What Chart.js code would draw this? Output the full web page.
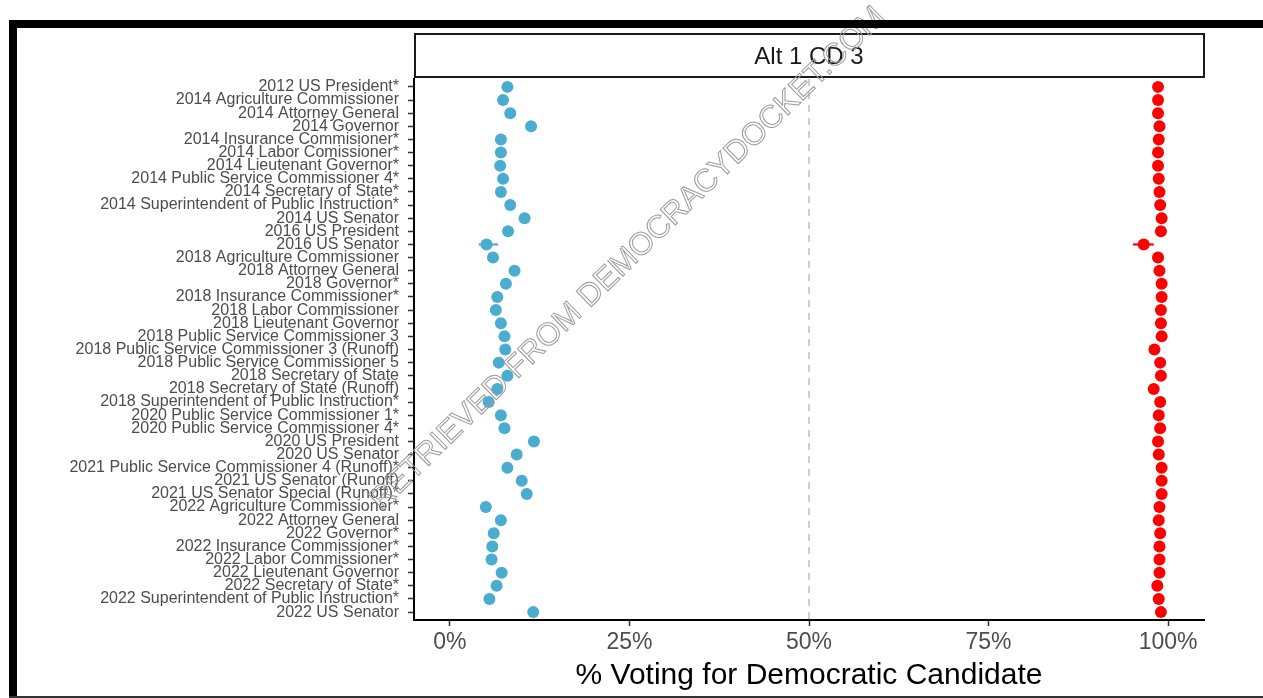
<!DOCTYPE html>
<html><head><meta charset="utf-8">
<script src="https://cdn.jsdelivr.net/npm/chart.js@4"></script>
<style>html,body{margin:0;padding:0;background:#fff;}canvas{display:block;}</style>
</head><body>
<canvas id="c" width="1263" height="698"></canvas>
<script>
const races = [
  '2012 US President*','2014 Agriculture Commissioner','2014 Attorney General','2014 Governor',
  '2014 Insurance Commisioner*','2014 Labor Comissioner*','2014 Lieutenant Governor*',
  '2014 Public Service Commissioner 4*','2014 Secretary of State*','2014 Superintendent of Public Instruction*',
  '2014 US Senator','2016 US President','2016 US Senator','2018 Agriculture Commissioner',
  '2018 Attorney General','2018 Governor*','2018 Insurance Commissioner*','2018 Labor Commissioner',
  '2018 Lieutenant Governor','2018 Public Service Commissioner 3','2018 Public Service Commissioner 3 (Runoff)',
  '2018 Public Service Commissioner 5','2018 Secretary of State','2018 Secretary of State (Runoff)',
  '2018 Superintendent of Public Instruction*','2020 Public Service Commissioner 1*',
  '2020 Public Service Commissioner 4*','2020 US President','2020 US Senator',
  '2021 Public Service Commissioner 4 (Runoff)*','2021 US Senator (Runoff)','2021 US Senator Special (Runoff)*',
  '2022 Agriculture Commissioner*','2022 Attorney General','2022 Governor*','2022 Insurance Commissioner*',
  '2022 Labor Commissioner*','2022 Lieutenant Governor','2022 Secretary of State*',
  '2022 Superintendent of Public Instruction*','2022 US Senator'
];
const bluePct = [8.0,7.4,8.4,11.3,7.1,7.1,7.0,7.4,7.1,8.4,10.4,8.1,5.1,6.0,9.0,7.8,6.6,6.4,7.1,7.6,7.7,6.8,8.0,6.6,5.4,7.1,7.6,11.7,9.3,8.0,10.0,10.7,5.0,7.1,6.1,5.9,5.8,7.2,6.5,5.5,11.6];
const redPct = [98.6,98.6,98.6,98.8,98.7,98.6,98.6,98.7,98.8,98.9,99.1,99.0,96.6,98.6,98.8,99.1,99.1,99.0,99.0,99.1,98.1,98.9,99.0,98.0,98.9,98.7,98.9,98.6,98.7,99.1,99.1,99.1,98.8,98.7,98.9,98.8,98.8,98.8,98.5,98.7,99.0];
const errRaces = ['2016 US Senator'];
const errBlueLo = [4.0];
const errBlueHi = [6.7];
const errRedLo = [95.1];
const errRedHi = [98.0];
const xTicks = [0,25,50,75,100];
const refLine = 50;
const panelTitle = 'Alt 1 CD 3';
const xTitle = '% Voting for Democratic Candidate';
const watermark = 'RETRIEVED FROM DEMOCRACYDOCKET.COM';

const BLUE = '#4aadd0';
const RED = '#ff0000';
const FONT = "'Liberation Sans', Arial, sans-serif";

const bgPlugin = {
  id: 'bg',
  beforeDraw(chart) {
    const ctx = chart.ctx;
    ctx.save(); ctx.fillStyle = '#fff'; ctx.fillRect(0,0,chart.width,chart.height); ctx.restore();
  }
};
const errPlugin = {
  id: 'err',
  beforeDatasetsDraw(chart) {
    const ctx = chart.ctx, xs = chart.scales.x, ys = chart.scales.y;
    ctx.save(); ctx.lineWidth = 2.2;
    errRaces.forEach((r, k) => {
      const y = ys.getPixelForValue(races.indexOf(r));
      ctx.strokeStyle = BLUE; ctx.beginPath();
      ctx.moveTo(xs.getPixelForValue(errBlueLo[k]), y); ctx.lineTo(xs.getPixelForValue(errBlueHi[k]), y); ctx.stroke();
      ctx.strokeStyle = RED; ctx.beginPath();
      ctx.moveTo(xs.getPixelForValue(errRedLo[k]), y); ctx.lineTo(xs.getPixelForValue(errRedHi[k]), y); ctx.stroke();
    });
    ctx.restore();
  }
};
const decorPlugin = {
  id: 'decor',
  afterDraw(chart) {
    const ctx = chart.ctx, a = chart.chartArea;
    ctx.save();
    // strip
    ctx.fillStyle = '#fff';
    ctx.strokeStyle = '#1a1a1a'; ctx.lineWidth = 2;
    ctx.fillRect(a.left + 1, 34, a.right - a.left - 1, 43);
    ctx.strokeRect(a.left + 1, 34, a.right - a.left - 1, 43);
    ctx.fillStyle = '#1a1a1a'; ctx.font = '24px ' + FONT;
    ctx.textAlign = 'center'; ctx.textBaseline = 'middle';
    ctx.fillText(panelTitle, (a.left + a.right) / 2, 57);
    // watermark
    ctx.save();
    ctx.translate(628, 259);
    ctx.rotate(-44.3 * Math.PI / 180);
    ctx.font = '31.5px ' + FONT;
    ctx.strokeStyle = '#9c9c9c'; ctx.lineWidth = 1;
    ctx.textAlign = 'center'; ctx.textBaseline = 'middle';
    ctx.strokeText(watermark, 0, 0);
    ctx.restore();
    // frame
    ctx.fillStyle = '#000';
    ctx.fillRect(9, 20, chart.width - 9, 8);
    ctx.fillRect(9, 20, 8, chart.height - 20);
    ctx.fillStyle = '#333';
    ctx.fillRect(9, 696, chart.width - 9, 2);
    ctx.restore();
  }
};

new Chart(document.getElementById('c'), {
  type: 'scatter',
  data: {
    datasets: [
      { data: races.map((r, i) => ({ x: bluePct[i], y: i })), backgroundColor: BLUE, borderWidth: 0, pointRadius: 6 },
      { data: races.map((r, i) => ({ x: redPct[i], y: i })), backgroundColor: RED, borderWidth: 0, pointRadius: 6 },
      { type: 'line', data: [{ x: refLine, y: -0.6 }, { x: refLine, y: races.length - 0.4 }],
        borderColor: '#b4b4b4', borderDash: [7, 6], borderWidth: 1.3, pointRadius: 0, fill: false }
    ]
  },
  options: {
    responsive: false, animation: false, events: [],
    layout: { padding: { left: 0, top: 79, right: 59, bottom: 4 } },
    plugins: { legend: { display: false }, tooltip: { enabled: false } },
    scales: {
      x: {
        type: 'linear', min: -5, max: 105,
        afterBuildTicks: s => { s.ticks = xTicks.map(v => ({ value: v })); },
        afterFit: s => { s.height = 698 - 4 - 620; },
        ticks: { callback: v => v + '%', font: { family: FONT, size: 23 }, color: '#4d4d4d', padding: 3, maxRotation: 0 },
        grid: { drawOnChartArea: false, tickLength: 6, color: '#333', tickWidth: 1.5 },
        border: { display: true, color: '#000', width: 2 },
        title: { display: true, text: xTitle, font: { family: FONT, size: 30 }, color: '#000', padding: 0 }
      },
      y: {
        type: 'linear', reverse: true, min: -0.6, max: races.length - 0.4,
        afterBuildTicks: s => { s.ticks = races.map((r, i) => ({ value: i })); },
        afterFit: s => { s.width = 414; },
        ticks: { callback: v => races[v], autoSkip: false, font: { family: FONT, size: 16 }, color: '#4d4d4d', padding: 9 },
        grid: { drawOnChartArea: false, tickLength: 6, color: '#333', tickWidth: 1.5 },
        border: { display: true, color: '#000', width: 2 }
      }
    }
  },
  plugins: [bgPlugin, errPlugin, decorPlugin]
});
</script>
</body></html>
